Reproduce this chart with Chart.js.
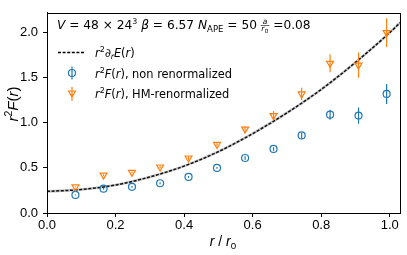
<!DOCTYPE html>
<html>
<head>
<meta charset="utf-8">
<script src="https://cdn.jsdelivr.net/npm/chart.js@4/dist/chart.umd.min.js"></script>
<style>
  html, body { margin: 0; padding: 0; background: #fff; }
  canvas { display: block; }
</style>
</head>
<body>
<canvas id="forceChart" width="407" height="255"></canvas>
<script>
// r / r0 of the measured points
const rValues = [0.083, 0.165, 0.248, 0.330, 0.413, 0.496, 0.578, 0.661, 0.743, 0.826, 0.909, 0.991];
// r^2 F(r), non renormalized
const nonRenorm = [0.20, 0.27, 0.29, 0.33, 0.40, 0.50, 0.61, 0.71, 0.86, 1.09, 1.08, 1.32];
const nonRenormErr = [0.005, 0.01, 0.01, 0.01, 0.01, 0.01, 0.02, 0.02, 0.03, 0.055, 0.09, 0.11];
// r^2 F(r), HM-renormalized
const hmRenorm = [0.29, 0.42, 0.45, 0.51, 0.61, 0.76, 0.93, 1.08, 1.32, 1.66, 1.64, 2.00];
const hmRenormErr = [0.005, 0.01, 0.01, 0.015, 0.02, 0.02, 0.03, 0.05, 0.07, 0.10, 0.14, 0.16];
// r^2 d_r E(r)
const curveR = [0, 0.1, 0.2, 0.3, 0.4, 0.5, 0.6, 0.7, 0.8, 0.9, 1.0, 1.03];
const curveVal = [0.24, 0.26, 0.31, 0.40, 0.52, 0.68, 0.88, 1.11, 1.37, 1.67, 2.00, 2.11];

const xTicks = [0, 0.2, 0.4, 0.6, 0.8, 1.0];
const yTicks = [0, 0.5, 1.0, 1.5, 2.0];

const BLUE = '#1f77b4';
const ORANGE = '#ff7f0e';
const FONT = '"Liberation Sans", Arial, sans-serif';
const LFONT = '"DejaVu Sans", sans-serif';

function toPoints(xs, ys) {
  return xs.map((x, i) => ({ x: x, y: ys[i] }));
}

// draws a row of text pieces (italic / normal, super- and subscripts)
function drawRuns(ctx, x, y, runs, baseSize, family) {
  family = family || LFONT;
  runs.forEach(r => {
    if (r.frac) {
      const s = baseSize * 0.62;
      ctx.font = 'italic ' + s + 'px ' + family;
      const wTop = ctx.measureText(r.frac[0]).width;
      const wBot = ctx.measureText(r.frac[1]).width + s * 0.6;
      const w = Math.max(wTop, wBot) + 1;
      ctx.fillText(r.frac[0], x + (w - wTop) / 2, y - baseSize * 0.42);
      ctx.fillText(r.frac[1], x + (w - wBot) / 2, y + baseSize * 0.2);
      ctx.font = s * 0.75 + 'px ' + family;
      ctx.fillText('0', x + (w - wBot) / 2 + s * 0.45, y + baseSize * 0.3);
      ctx.fillRect(x, y - baseSize * 0.3, w, 0.6);
      x += w;
      return;
    }
    const size = (r.scale || 1) * baseSize;
    ctx.font = (r.it ? 'italic ' : '') + size + 'px ' + family;
    ctx.fillText(r.t, x, y + (r.dy || 0) * baseSize);
    x += ctx.measureText(r.t).width;
  });
  return x;
}

function runsWidth(ctx, runs, baseSize, family) {
  family = family || LFONT;
  let w = 0;
  runs.forEach(r => {
    const size = (r.scale || 1) * baseSize;
    ctx.font = (r.it ? 'italic ' : '') + size + 'px ' + family;
    w += ctx.measureText(r.t).width;
  });
  return w;
}

const errorBars = {
  id: 'errorBars',
  afterDatasetsDraw(chart) {
    const ctx = chart.ctx;
    const xs = chart.scales.x, ys = chart.scales.y;
    chart.data.datasets.forEach(ds => {
      if (!ds.errors) return;
      ctx.save();
      ctx.strokeStyle = ds.borderColor;
      ctx.lineWidth = 1.2;
      ds.data.forEach((p, i) => {
        const px = xs.getPixelForValue(p.x);
        ctx.beginPath();
        ctx.moveTo(px, ys.getPixelForValue(p.y - ds.errors[i]));
        ctx.lineTo(px, ys.getPixelForValue(p.y + ds.errors[i]));
        ctx.stroke();
      });
      ctx.restore();
    });
  }
};

const decorations = {
  id: 'decorations',
  afterDraw(chart) {
    const ctx = chart.ctx;
    const a = chart.chartArea;
    ctx.save();
    ctx.strokeStyle = '#000';
    ctx.lineWidth = 1;
    ctx.strokeRect(Math.round(a.left) + 0.5, Math.round(a.top) + 0.5,
      Math.round(a.right - a.left), Math.round(a.bottom - a.top));

    ctx.fillStyle = '#000';
    ctx.textBaseline = 'alphabetic';

    // legend title
    drawRuns(ctx, 57, 29, [
      { t: 'V', it: true },
      { t: ' = 48 \u00d7 24' },
      { t: '3', scale: 0.65, dy: -0.4 },
      { t: ' ' },
      { t: '\u03b2', it: true },
      { t: ' = 6.57 ' },
      { t: 'N', it: true },
      { t: 'APE', scale: 0.7, dy: 0.22 },
      { t: ' = 50 ' },
      { frac: ['a', 'r'] },
      { t: ' =0.08' }
    ], 12.2);

    // legend entries
    ctx.save();
    ctx.strokeStyle = '#000';
    ctx.lineWidth = 1.5;
    ctx.setLineDash([3, 1.6]);
    ctx.beginPath();
    ctx.moveTo(58, 52.5);
    ctx.lineTo(85, 52.5);
    ctx.stroke();
    ctx.restore();

    ctx.save();
    ctx.lineWidth = 1.2;
    ctx.strokeStyle = BLUE;
    ctx.beginPath();
    ctx.arc(72, 73, 3.5, 0, Math.PI * 2);
    ctx.moveTo(72, 66.5);
    ctx.lineTo(72, 79.5);
    ctx.stroke();
    ctx.strokeStyle = ORANGE;
    ctx.beginPath();
    ctx.moveTo(68.5, 91);
    ctx.lineTo(75.5, 91);
    ctx.lineTo(72, 97);
    ctx.closePath();
    ctx.moveTo(72, 87);
    ctx.lineTo(72, 101);
    ctx.stroke();
    ctx.restore();

    const es = 11.4;
    drawRuns(ctx, 95, 57, [
      { t: 'r', it: true }, { t: '2', scale: 0.7, dy: -0.4 },
      { t: '\u2202', it: true }, { t: 'r', it: true, scale: 0.7, dy: 0.2 },
      { t: 'E', it: true }, { t: '(' }, { t: 'r', it: true }, { t: ')' }
    ], es);
    const entry = [
      { t: 'r', it: true }, { t: '2', scale: 0.7, dy: -0.4 },
      { t: 'F', it: true }, { t: '(' }, { t: 'r', it: true }, { t: ')' }
    ];
    drawRuns(ctx, 95, 77.5, entry.concat([{ t: ', non renormalized' }]), es);
    drawRuns(ctx, 95, 98, entry.concat([{ t: ', HM-renormalized' }]), es);

    // x axis title
    const xRuns = [{ t: 'r', it: true }, { t: ' / ' }, { t: 'r', it: true }, { t: '0', scale: 0.7, dy: 0.22 }];
    const xw = runsWidth(ctx, xRuns, 14, FONT);
    drawRuns(ctx, 223 - xw / 2, 246, xRuns, 14, FONT);

    // y axis title
    ctx.translate(18, 104);
    ctx.rotate(-Math.PI / 2);
    const yRuns = [{ t: 'r', it: true }, { t: '2', scale: 0.7, dy: -0.4 }, { t: 'F', it: true },
      { t: '(' }, { t: 'r', it: true }, { t: ')' }];
    const yw = runsWidth(ctx, yRuns, 15, FONT);
    drawRuns(ctx, -yw / 2, 0, yRuns, 15, FONT);
    ctx.restore();
  }
};

const ctx = document.getElementById('forceChart').getContext('2d');
new Chart(ctx, {
  type: 'scatter',
  data: {
    datasets: [
      {
        label: 'band',
        data: toPoints(curveR, curveVal),
        showLine: true,
        borderColor: 'rgba(128,128,128,0.45)',
        borderWidth: 2.6,
        pointRadius: 0,
        cubicInterpolationMode: 'monotone',
        order: 4
      },
      {
        label: 'r^2 d_r E(r)',
        data: toPoints(curveR, curveVal),
        showLine: true,
        borderColor: '#111',
        borderWidth: 1.5,
        borderDash: [3, 1.6],
        pointRadius: 0,
        cubicInterpolationMode: 'monotone',
        order: 3
      },
      {
        label: 'r^2 F(r), non renormalized',
        data: toPoints(rValues, nonRenorm),
        errors: nonRenormErr,
        borderColor: BLUE,
        backgroundColor: 'rgba(0,0,0,0)',
        pointStyle: 'circle',
        pointRadius: 3.5,
        pointBorderWidth: 1.2,
        order: 2
      },
      {
        label: 'r^2 F(r), HM-renormalized',
        data: toPoints(rValues, hmRenorm),
        errors: hmRenormErr,
        borderColor: ORANGE,
        backgroundColor: 'rgba(0,0,0,0)',
        pointStyle: 'triangle',
        pointRotation: 180,
        pointRadius: 4,
        pointBorderWidth: 1.2,
        order: 1
      }
    ]
  },
  options: {
    responsive: false,
    animation: false,
    layout: { padding: { top: 5, right: 7, left: 0, bottom: 0 } },
    plugins: { legend: { display: false }, tooltip: { enabled: false } },
    scales: {
      x: {
        type: 'linear',
        min: 0,
        max: 1.03,
        afterFit: s => { s.height = 42; },
        afterBuildTicks: s => { s.ticks = xTicks.map(v => ({ value: v })); },
        grid: { display: true, drawOnChartArea: false, drawTicks: true, tickLength: 4, color: '#000' },
        border: { display: true, color: '#000' },
        ticks: {
          color: '#000',
          padding: 1,
          maxRotation: 0,
          font: { family: FONT, size: 13 },
          callback: v => v.toFixed(1)
        }
      },
      y: {
        type: 'linear',
        min: 0,
        max: 2.22,
        afterFit: s => { s.width = 47; },
        afterBuildTicks: s => { s.ticks = yTicks.map(v => ({ value: v })); },
        grid: { display: true, drawOnChartArea: false, drawTicks: true, tickLength: 4, color: '#000' },
        border: { display: true, color: '#000' },
        ticks: {
          color: '#000',
          padding: 5,
          font: { family: FONT, size: 13 },
          callback: v => v.toFixed(1)
        }
      }
    }
  },
  plugins: [errorBars, decorations]
});
</script>
</body>
</html>
